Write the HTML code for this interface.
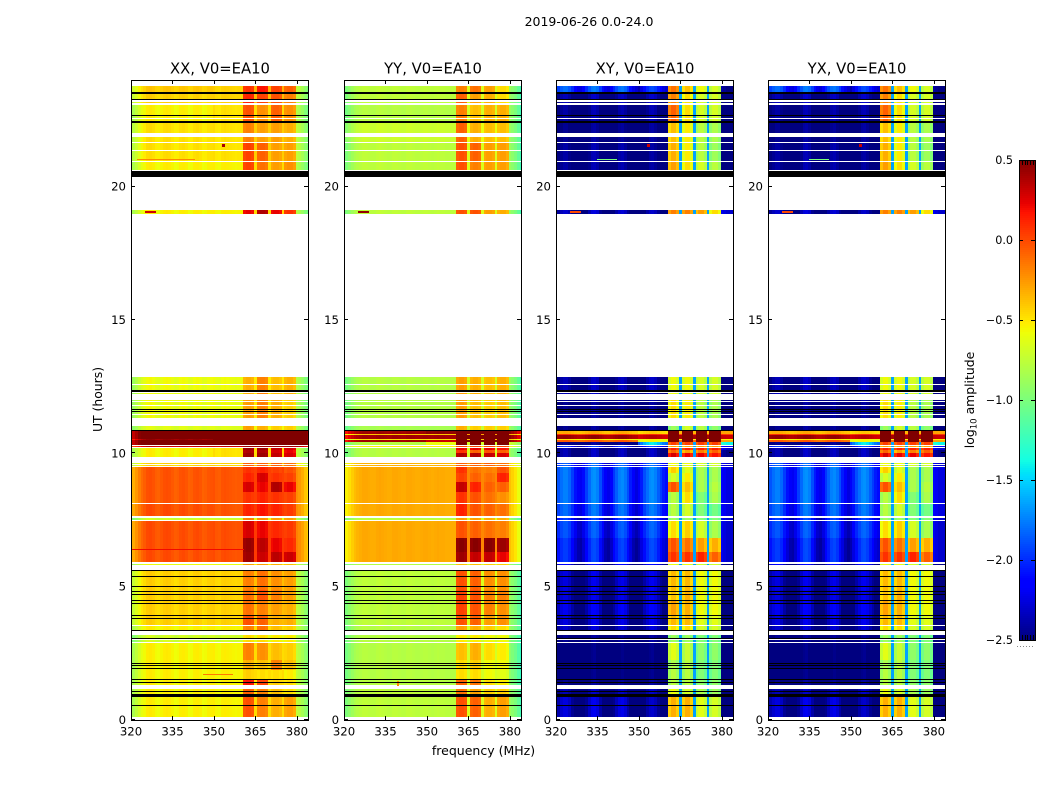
<!DOCTYPE html>
<html>
<head>
<meta charset="utf-8">
<title>2019-06-26 0.0-24.0</title>
<style>
html,body{margin:0;padding:0;background:#fff;}
svg{display:block;}
text{font-family:"DejaVu Sans","Liberation Sans",sans-serif;fill:#000;}
</style>
</head>
<body>
<svg id="chart" xmlns="http://www.w3.org/2000/svg" width="1050" height="800" viewBox="0 0 1050 800">
  <text x="589" y="26" text-anchor="middle" font-size="12.5">2019-06-26 0.0-24.0</text>
  <text x="483.5" y="755" text-anchor="middle" font-size="12.5">frequency (MHz)</text>
  <text x="0" y="0" transform="translate(102,399.5) rotate(-90)" text-anchor="middle" font-size="12.4">UT (hours)</text>
  <text x="0" y="0" transform="translate(974,400) rotate(-90)" text-anchor="middle" font-size="12.4">log<tspan font-size="8.6" dy="2.5">10</tspan><tspan dy="-2.5"> amplitude</tspan></text>
  <g id="panels"></g>
  <g id="colorbar"></g>
</svg>
<script>
// ---- Axis data ----
const xTicks = [320, 335, 350, 365, 380];
const yTicks = [0, 5, 10, 15, 20];
const colorTicks = [0.5, 0.0, -0.5, -1.0, -1.5, -2.0, -2.5];
const polNames = ['XX', 'YY', 'XY', 'YX'];
const refAntenna = 'EA10';

// ---- Time rows: [start hour, end hour, spectral state] (gaps stay white) ----
const timeRows = [
[23.565,23.775,'a'],[23.5,23.53,'a'],[23.29,23.46,'a2'],[23.125,23.16,'a2'],[22.69,23.07,'b'],[22.59,22.65,'b'],[22.47,22.55,'b'],
[22.0,22.39,'c'],[21.8,21.86,'c'],[21.69,21.78,'c'],[21.36,21.65,'d'],[20.96,21.34,'d'],[20.625,20.91,'f'],[18.97,19.125,'g'],
[12.6,12.86,'h'],[12.38,12.575,'h'],[12.21,12.26,'h'],[11.95,11.99,'i'],[11.8,11.91,'i'],[11.65,11.775,'i'],[11.6,11.625,'i'],
[11.475,11.575,'i'],[11.325,11.44,'i'],[10.875,11.025,'j'],[10.725,10.85,'k1'],[10.68,10.725,'k2'],[10.54,10.68,'k3'],[10.5,10.54,'k4'],
[10.425,10.5,'k5'],[10.31,10.425,'k6'],[10.24,10.275,'l'],[10.125,10.21,'m1'],[10.0,10.125,'m2'],[9.86,10.0,'m3'],[9.59,9.64,'n'],
[9.525,9.56,'n'],[9.26,9.475,'p1'],[8.925,9.26,'p2'],[8.55,8.925,'p3'],[8.14,8.55,'p4'],[7.66,8.1,'p5'],[7.51,7.575,'q'],
[6.825,7.47,'r1'],[6.3,6.825,'r2'],[5.94,6.3,'r3'],[5.81,5.85,'s'],[4.875,5.625,'t1'],[4.5,4.875,'t2'],[3.94,4.5,'t3'],[3.55,3.94,'t4'],
[3.325,3.525,'t5'],[3.06,3.175,'u'],[2.94,2.99,'u'],[2.25,2.9,'v1'],[1.875,2.25,'v2'],[1.54,1.875,'v3'],[1.3,1.54,'v4'],[0.975,1.15,'w'],[0.125,0.86,'x']
];

// ---- Flagged (black) time ranges in hours ----
const flaggedRows = [
[23.53,23.565],[23.46,23.5],[23.25,23.29],[22.65,22.69],[22.39,22.47],[20.37,20.59],[12.31,12.38],[11.625,11.65],[11.575,11.6],[10.85,10.875],
[5.6,5.63],[5.36,5.39],[5.0,5.03],[4.82,4.85],[4.71,4.74],[4.46,4.49],[4.37,4.4],[3.92,3.95],[3.8,3.83],[3.33,3.36],[3.03,3.06],
[2.12,2.15],[2.04,2.07],[1.93,1.96],[1.51,1.54],[1.4,1.43],[1.04,1.075],[0.86,0.975],[0.525,0.55]
];

// ---- Fine channel structure (log10 offset, one value per MHz from 320 to 384) ----
const profileXX = [-.35,-.28,-.2,-.12,-.06,-.02,.03,.04,.02,-.02,-.03,0,.03,.04,.03,0,-.03,-.02,.02,.03,.01,-.03,-.02,.02,.03,.01,-.03,-.02,.01,.02,.03,-.01,-.02,.02,.03,.02,.01,0,-.01,0,0,0,.03,.03,0,.08,0,.03,.03,0,.08,0,.03,.03,0,.08,0,.03,.03,-.02,.1,.06,0,-.08,-.15];
const profileYY = [-.28,-.22,-.16,-.1,-.05,-.02,0,.02,.02,.01,0,0,.02,.03,.02,.01,0,0,.02,.02,.01,0,0,.02,.02,.01,0,0,.01,.02,.02,.01,0,.01,.02,.01,.01,0,0,0,0,0,.03,.03,0,.12,0,.03,.03,0,.12,0,.03,.03,0,.12,0,.03,.03,-.02,.12,.06,0,-.1,-.22];
const profileXY = [.05,.12,.2,.25,.25,.18,.05,-.08,-.18,-.2,-.1,.05,.18,.28,.3,.25,.1,-.05,-.18,-.22,-.12,.03,.15,.25,.28,.22,.1,-.05,-.18,-.25,-.18,-.05,.1,.2,.28,.3,.25,.15,.05,-.05,-.1,-.08,.03,.03,-.08,0,-.08,.03,.03,-.08,0,-.08,.03,.03,-.08,0,-.08,.03,.03,-.08,.1,.05,0,0,0];
const profileYX = [.05,.12,.2,.25,.25,.18,.05,-.08,-.18,-.2,-.1,.05,.18,.28,.3,.25,.1,-.05,-.18,-.22,-.12,.03,.15,.25,.28,.22,.1,-.05,-.18,-.25,-.18,-.05,.1,.2,.28,.3,.25,.15,.05,-.05,-.1,-.08,.03,.03,-.08,0,-.08,.03,.03,-.08,0,-.08,.03,.03,-.08,0,-.08,.03,.03,-.08,.1,.05,0,0,0];
const crossGapLevel = [-1.65];

// ---- Spectral states: [low band, mid band, sub1, sub2, sub3, sub4, upper edge] in log10 amplitude ----
const levelsXX = {
a:[-.42,-.45,.05,.15,0,-.1,-.85], a2:[-.45,-.45,.1,.0,-.05,-.2,-.85], b:[-.55,-.5,-.05,-.25,-.1,-.25,-.9], c:[-.5,-.5,-.2,-.3,-.3,-.35,-.85],
d:[-.5,-.5,0,-.1,-.3,-.3,-.85], f:[-.55,-.55,0,-.15,-.3,-.25,-.9], g:[-.55,-.55,.2,.35,.2,.05,-.9], h:[-.6,-.6,-.35,-.2,-.4,-.35,-.9],
i:[-.6,-.6,-.3,-.2,-.35,-.45,-.9], j:[-.65,-.65,-.3,-.35,-.45,-.45,-.9], k1:[.6,.6,.6,.6,.6,.6,.6], k2:[.6,.6,.6,.6,.6,.6,.6], k3:[.6,.6,.6,.6,.6,.6,.6],
k4:[.42,.6,.6,.6,.6,.6,.6], k5:[.6,.6,.6,.6,.6,.6,.6], k6:[.6,.6,.6,.6,.6,.6,.6], l:[.3,.3,.4,.4,.4,.4,.3], m1:[-.55,-.5,.4,.4,.3,.25,-.85],
m2:[-.55,-.5,.35,.35,.25,.2,-.85], m3:[-.55,-.5,.4,.4,.3,.25,-.85], n:[-.45,-.45,-.1,-.1,-.1,-.15,-.6], p1:[-.05,-.05,.05,.1,0,-.05,-.32],
p2:[-.05,-.05,.1,.25,.05,0,-.32], p3:[-.05,-.05,.25,.2,.35,.2,-.32], p4:[-.05,-.05,.05,.1,.05,0,-.32], p5:[-.03,-.05,.1,.15,.1,.02,-.32],
q:[-.7,-.7,-.2,-.25,-.3,-.3,-.9], r1:[-.03,-.03,.25,.2,.08,.03,-.28], r2:[-.03,-.03,.42,.32,.2,.08,-.28], r3:[-.03,-.03,.4,.28,.32,.28,-.28],
s:[-.6,-.6,-.3,-.3,-.35,-.4,-.85], t1:[-.45,-.45,-.2,-.15,-.25,-.3,-.85], t2:[-.45,-.45,-.15,-.05,-.2,-.3,-.85], t3:[-.45,-.45,-.15,-.2,-.3,-.35,-.85],
t4:[-.45,-.45,-.05,-.1,-.35,-.35,-.85], t5:[-.55,-.55,-.2,-.15,-.4,-.45,-.85], u:[-.7,-.7,-.5,-.5,-.55,-.55,-.9], v1:[-.55,-.55,-.2,-.25,-.4,-.45,-.85],
v2:[-.55,-.55,-.35,-.4,-.2,-.4,-.85], v3:[-.55,-.55,-.45,-.5,-.5,-.55,-.85], v4:[-.55,-.55,.15,0,-.45,-.5,-.85], w:[-.55,-.55,-.1,-.2,-.4,-.5,-.85], x:[-.55,-.55,-.05,-.2,-.35,-.3,-.85]
};
const levelsYY = {
a:[-.77,-.77,-.2,-.15,-.3,-.5,-1.0], a2:[-.77,-.77,-.1,-.3,-.35,-.5,-1.0], b:[-.8,-.8,-.2,-.4,-.35,-.35,-1.0], c:[-.72,-.72,-.1,-.35,-.4,-.4,-1.0],
d:[-.77,-.77,-.05,-.1,-.3,-.3,-1.0], f:[-.77,-.77,-.05,-.2,-.3,-.3,-1.0], g:[-.77,-.77,-.05,-.05,-.3,-.35,-1.0], h:[-.8,-.8,-.3,-.35,-.4,-.35,-1.0],
i:[-.8,-.8,-.3,-.4,-.45,-.4,-1.0], j:[-.85,-.85,-.35,-.45,-.45,-.45,-1.0], k1:[.4,.45,.6,.6,.6,.6,.35], k2:[-.4,-.4,.6,.6,.6,.6,-.4], k3:[.4,.4,.6,.6,.6,.6,.35],
k4:[-.5,-.5,.6,.6,.6,.6,-.5], k5:[.4,.3,.6,.6,.6,.6,.35], k6:[-.8,-.6,.55,.55,.55,.55,-.8], l:[-.55,-.55,0,0,0,0,-.7], m1:[-.8,-.8,.2,.2,.2,.15,-1.0],
m2:[-.8,-.8,.05,-.1,-.05,-.1,-1.0], m3:[-.8,-.8,.35,.35,.3,.25,-1.0], n:[-.35,-.35,-.1,-.1,-.1,-.15,-.55], p1:[-.32,-.32,.05,-.15,-.2,-.05,-.5],
p2:[-.32,-.32,0,-.1,-.15,.1,-.5], p3:[-.32,-.32,.3,.1,-.1,-.1,-.5], p4:[-.32,-.32,.05,-.05,-.15,-.25,-.5], p5:[-.32,-.32,.1,-.05,-.1,-.15,-.5],
q:[-.77,-.77,-.3,-.3,-.35,-.35,-1.0], r1:[-.32,-.32,-.05,-.1,-.15,-.2,-.5], r2:[-.32,-.32,.45,.45,.45,.4,-.5], r3:[-.32,-.32,.4,.3,.3,.2,-.5],
s:[-.8,-.8,-.4,-.4,-.45,-.45,-1.0], t1:[-.77,-.77,-.05,-.1,-.25,-.25,-1.0], t2:[-.77,-.77,0,-.05,-.2,-.2,-1.0], t3:[-.77,-.77,0,-.05,-.2,-.25,-1.0],
t4:[-.77,-.77,-.05,-.1,-.3,-.25,-1.0], t5:[-.8,-.8,-.3,-.35,-.45,-.5,-1.0], u:[-.8,-.8,-.55,-.55,-.6,-.6,-1.05], v1:[-.8,-.8,-.4,-.35,-.5,-.55,-1.05],
v2:[-.8,-.8,-.5,-.45,-.6,-.6,-1.05], v3:[-.8,-.8,-.5,-.5,-.6,-.65,-1.05], v4:[-.8,-.8,-.1,-.15,-.5,-.55,-1.05], w:[-.77,-.77,-.15,-.3,-.45,-.45,-1.0], x:[-.77,-.77,-.05,-.1,-.35,-.3,-1.0]
};
const levelsXY = {
a:[-2.05,-2.2,-.15,-.4,-.6,-.7,-2.5], a2:[-2.6,-2.6,-.2,-.5,-.7,-.7,-2.6], b:[-2.65,-2.65,-.1,-.5,-.7,-.7,-2.6], c:[-2.7,-2.7,-.4,-.55,-.8,-.85,-2.6],
d:[-2.65,-2.7,-.35,-.55,-.8,-.9,-2.6], f:[-2.65,-2.7,-.3,-.5,-.7,-.8,-2.6], g:[-2.55,-2.6,-.2,-.2,-.3,-.5,-2.3], h:[-2.6,-2.6,-.6,-.6,-.7,-.7,-2.6],
i:[-2.7,-2.7,-.5,-.55,-.8,-.85,-2.6], j:[-2.7,-2.7,-.9,-.7,-.8,-.95,-2.6], k1:[-.35,-.45,.6,.6,.6,.6,-.3], k2:[.05,.05,.6,.6,.6,.6,.05], k3:[.4,.3,.6,.6,.6,.6,.3],
k4:[-.55,-.6,.6,.6,.6,.6,-.55], k5:[-.1,-.6,.6,.6,.6,.6,-.3], k6:[-2.7,-1.7,0,0,0,0,-1.4], l:[-2.2,-2.2,-.3,-.3,-.3,-.3,-2.2], m1:[-2.6,-2.6,.1,.1,.1,.1,-2.3],
m2:[-2.6,-2.6,-.1,-.3,-.2,-.1,-2.5], m3:[-2.6,-2.6,.25,.2,.2,.15,-2.5], n:[-2.1,-2.1,-.6,-.6,-.7,-.7,-2.3], p1:[-2.0,-2.0,-.45,-.65,-.85,-.85,-2.25],
p2:[-2.0,-2.0,-.7,-.55,-.85,-.85,-2.25], p3:[-2.0,-2.0,-.05,-.4,-.85,-.8,-2.25], p4:[-2.0,-2.0,-.8,-.5,-1.0,-.85,-2.25], p5:[-2.05,-2.05,-.8,-.7,-1.0,-1.05,-2.25],
q:[-2.2,-2.2,-.9,-.9,-1.0,-1.0,-2.3], r1:[-2.12,-2.12,-.5,-.45,-.7,-.85,-2.3], r2:[-2.2,-2.2,-.05,-.15,-.3,-.35,-2.3], r3:[-2.2,-2.2,.05,.05,.1,-.1,-2.3],
s:[-2.4,-2.4,-.6,-.6,-.7,-.7,-2.5], t1:[-2.5,-2.5,-.38,-.38,-.6,-.6,-2.6], t2:[-2.5,-2.5,-.42,-.35,-.6,-.6,-2.6], t3:[-2.45,-2.45,-.3,-.35,-.6,-.6,-2.6],
t4:[-2.5,-2.5,-.38,-.38,-.65,-.65,-2.6], t5:[-2.55,-2.55,-.5,-.5,-.7,-.7,-2.6], u:[-2.7,-2.7,-.9,-.9,-1.0,-1.0,-2.6], v1:[-2.75,-2.75,-.65,-.75,-.95,-.95,-2.6],
v2:[-2.75,-2.75,-.85,-.8,-1.0,-1.0,-2.6], v3:[-2.75,-2.75,-.8,-.8,-1.0,-1.0,-2.6], v4:[-2.7,-2.7,-.8,-.8,-.95,-.95,-2.6], w:[-2.6,-2.6,-.6,-.7,-.85,-.9,-2.6], x:[-2.5,-2.6,-.35,-.35,-.65,-.7,-2.6]
};
const levelsYX = levelsXY;

// ---- Narrow events: [polarization, start hour, end hour, start MHz, end MHz, log10 amplitude] ----
const streaks = [
['XX',20.99,21.03,322,343,-.2],['XX',6.38,6.42,320,361,.2],['XX',19.03,19.1,325,329,.3],['YY',19.03,19.1,325,329,.45],['XY',19.03,19.1,325,329,0],['YX',19.03,19.1,325,329,0],
['XY',20.99,21.03,335,342,-1.0],['YX',20.99,21.03,335,342,-1.0],['XX',21.47,21.6,353,354,.4],['XY',21.47,21.6,353,354,.3],['YX',21.47,21.6,353,354,.3],
['XX',1.67,1.71,346,357,-.15],['YY',1.27,1.47,339,340,-.2]
];

// ---- Scales ----
const SVGNS = 'http://www.w3.org/2000/svg';
const panelLeft = [131, 344, 556, 768];
const panelWidth = 177;
const plotTop = 80, plotBottom = 720;
const freqMin = 320, freqMax = 384, hourMin = 0, hourMax = 24;
const cbLeft = 1019, cbRight = 1035, cbTop = 160, cbBottom = 640, cbMin = -2.5, cbMax = 0.5;
const profiles = {XX: profileXX, YY: profileYY, XY: profileXY, YX: profileYX};
const levels = {XX: levelsXX, YY: levelsYY, XY: levelsXY, YX: levelsYX};

function xScale(left, mhz) { return left + (mhz - freqMin) / (freqMax - freqMin) * panelWidth; }
function yScale(hour) { return plotBottom - (hour - hourMin) / (hourMax - hourMin) * (plotBottom - plotTop); }
function cbScale(v) { return cbBottom - (v - cbMin) / (cbMax - cbMin) * (cbBottom - cbTop); }

function interp(stops, t) {
  for (let i = 1; i < stops.length; i++) {
    if (t <= stops[i][0]) {
      const a = stops[i - 1], b = stops[i];
      return a[1] + (b[1] - a[1]) * (t - a[0]) / (b[0] - a[0]);
    }
  }
  return stops[stops.length - 1][1];
}
const jetR = [[0,0],[.35,0],[.66,1],[.89,1],[1,.5]];
const jetG = [[0,0],[.125,0],[.375,1],[.64,1],[.91,0],[1,0]];
const jetB = [[0,.5],[.11,1],[.34,1],[.65,0],[1,0]];
function jet(v) {
  const t = Math.max(0, Math.min(1, (v - cbMin) / (cbMax - cbMin)));
  return 'rgb(' + Math.round(interp(jetR, t) * 255) + ',' + Math.round(interp(jetG, t) * 255) + ',' + Math.round(interp(jetB, t) * 255) + ')';
}

function isGap(ch) { return ch === 45 || ch === 50 || ch === 55; }
// Which level applies to a channel: 0 low, 1 mid, 2-5 sub-bands, 6 upper edge; gap channels follow the low band
function levelIndex(ch) {
  if (ch < 30) return 0;
  if (ch < 41) return 1;
  if (isGap(ch)) return 0;
  if (ch < 45) return 2;
  if (ch < 50) return 3;
  if (ch < 55) return 4;
  if (ch < 60) return 5;
  return 6;
}
function cellValue(pol, state, ch) {
  const profile = profiles[pol];
  const cross = pol === 'XY' || pol === 'YX';
  if (!cross) return state[levelIndex(ch)] + profile[ch];
  if (isGap(ch)) return Math.max(state[0], crossGapLevel[0]);
  const gain = state[0] > -1 ? 0.2 : 1;
  return state[levelIndex(ch)] + profile[ch] * gain;
}

function rect(parent, x, y, w, h, fill) {
  const el = document.createElementNS(SVGNS, 'rect');
  el.setAttribute('x', x);
  el.setAttribute('y', y);
  el.setAttribute('width', w);
  el.setAttribute('height', h);
  el.setAttribute('fill', fill);
  parent.appendChild(el);
  return el;
}
function line(parent, x1, y1, x2, y2, name) {
  const el = document.createElementNS(SVGNS, 'line');
  el.setAttribute('x1', x1);
  el.setAttribute('y1', y1);
  el.setAttribute('x2', x2);
  el.setAttribute('y2', y2);
  el.setAttribute('stroke', '#000');
  el.setAttribute('stroke-width', '1');
  
  
  parent.appendChild(el);
  return el;
}
function label(parent, x, y, str, anchor, size, name) {
  const el = document.createElementNS(SVGNS, 'text');
  el.setAttribute('x', x);
  el.setAttribute('y', y);
  el.setAttribute('text-anchor', anchor);
  el.setAttribute('font-size', size);
  
  
  el.textContent = str;
  parent.appendChild(el);
  return el;
}

const panelsRoot = document.getElementById('panels');
polNames.forEach(function (pol, p) {
  const left = panelLeft[p];
  const right = left + panelWidth;
  const g = document.createElementNS(SVGNS, 'g');
  
  
  panelsRoot.appendChild(g);
  const cells = document.createElementNS(SVGNS, 'g');
  cells.setAttribute('shape-rendering', 'crispEdges');
  
  
  g.appendChild(cells);

  const profile = profiles[pol];
  const lv = levels[pol];
  timeRows.forEach(function (row) {
    const y0 = Math.round(yScale(row[1]));
    const y1 = Math.max(y0 + 1, Math.round(yScale(row[0])));
    const state = lv[row[2]];
    for (let ch = 0; ch < profile.length; ch++) {
      const a = Math.max(freqMin, freqMin + ch - 0.5);
      const b = Math.min(freqMax, freqMin + ch + 0.5);
      const xa = Math.round(xScale(left, a));
      const xb = Math.round(xScale(left, b));
      const cell = rect(cells, xa, y0, xb - xa, y1 - y0, jet(cellValue(pol, state, ch)));
      
      
    }
  });

  streaks.filter(function (s) { return s[0] === pol; }).forEach(function (s) {
    const xa = Math.round(xScale(left, s[3]));
    const xb = Math.round(xScale(left, s[4]));
    const y0 = Math.round(yScale(s[2]));
    const h = Math.max(1, Math.round(yScale(s[1])) - y0);
    const mark = rect(cells, xa, y0, Math.max(1, xb - xa), h, jet(s[5]));
    
    
  });

  flaggedRows.forEach(function (f) {
    const y0 = Math.round(yScale(f[1]));
    const h = Math.max(1, Math.round(yScale(f[0])) - y0);
    const band = rect(cells, left, y0, panelWidth, h, '#000');
    
    
  });

  xTicks.forEach(function (t) {
    const x = Math.round(xScale(left, t)) + 0.5;
    line(g, x, plotBottom, x, plotBottom - 4, 'x-tick-bottom');
    line(g, x, plotTop, x, plotTop + 4, 'x-tick-top');
    label(g, xScale(left, t), 735.5, String(t), 'middle', 11.7, 'x-tick-label');
  });
  yTicks.forEach(function (t) {
    const y = Math.round(yScale(t)) - 0.5;
    line(g, left, y, left + 4, y, 'y-tick-left');
    line(g, right, y, right - 4, y, 'y-tick-right');
    label(g, left - 5, yScale(t) + 4, String(t), 'end', 11.7, 'y-tick-label');
  });

  const frame = document.createElementNS(SVGNS, 'rect');
  frame.setAttribute('x', left + 0.5);
  frame.setAttribute('y', plotTop + 0.5);
  frame.setAttribute('width', panelWidth);
  frame.setAttribute('height', plotBottom - plotTop);
  frame.setAttribute('fill', 'none');
  frame.setAttribute('stroke', '#000');
  frame.setAttribute('stroke-width', '1');
  
  
  g.appendChild(frame);

  label(g, left + panelWidth / 2 + 0.5, 73.5, pol + ', V0=' + refAntenna, 'middle', 14.8, 'panel-title');
});

// ---- Colorbar ----
const cb = document.getElementById('colorbar');
const cbStrip = document.createElementNS(SVGNS, 'g');
cbStrip.setAttribute('shape-rendering', 'crispEdges');


cb.appendChild(cbStrip);
for (let py = cbTop; py < cbBottom; py += 2) {
  const v = cbMax - (py + 1 - cbTop) / (cbBottom - cbTop) * (cbMax - cbMin);
  const seg = rect(cbStrip, cbLeft, py, cbRight - cbLeft, 2, jet(v));
  
  
}
colorTicks.forEach(function (v) {
  const y = Math.round(cbScale(v)) + 0.5;
  line(cb, cbLeft, y, cbLeft + 4, y, 'colorbar-tick-left');
  line(cb, cbRight, y, cbRight - 4, y, 'colorbar-tick-right');
  const txt = (v < 0 ? '\u2212' : '') + Math.abs(v).toFixed(1);
  label(cb, 1013, cbScale(v) + 4, txt, 'end', 11.2, 'colorbar-tick-label');
});
[0.2, 0.37, 0.53, 0.7, 0.87].forEach(function (frac) {
  const x = Math.round(cbLeft + frac * (cbRight - cbLeft)) + 0.5;
  line(cb, x, cbTop, x, cbTop + 5, 'colorbar-top-tick');
  line(cb, x, cbBottom, x, cbBottom - 5, 'colorbar-bottom-tick');
});
const cbFrame = document.createElementNS(SVGNS, 'rect');
cbFrame.setAttribute('x', cbLeft + 0.5);
cbFrame.setAttribute('y', cbTop + 0.5);
cbFrame.setAttribute('width', cbRight - cbLeft);
cbFrame.setAttribute('height', cbBottom - cbTop);
cbFrame.setAttribute('fill', 'none');
cbFrame.setAttribute('stroke', '#000');


cb.appendChild(cbFrame);
const cbDots = line(cb, 1017, 646.5, 1035, 646.5, 'colorbar-collapsed-labels');
cbDots.setAttribute('stroke', '#888');
cbDots.setAttribute('stroke-dasharray', '1 2');
</script>
</body>
</html>
